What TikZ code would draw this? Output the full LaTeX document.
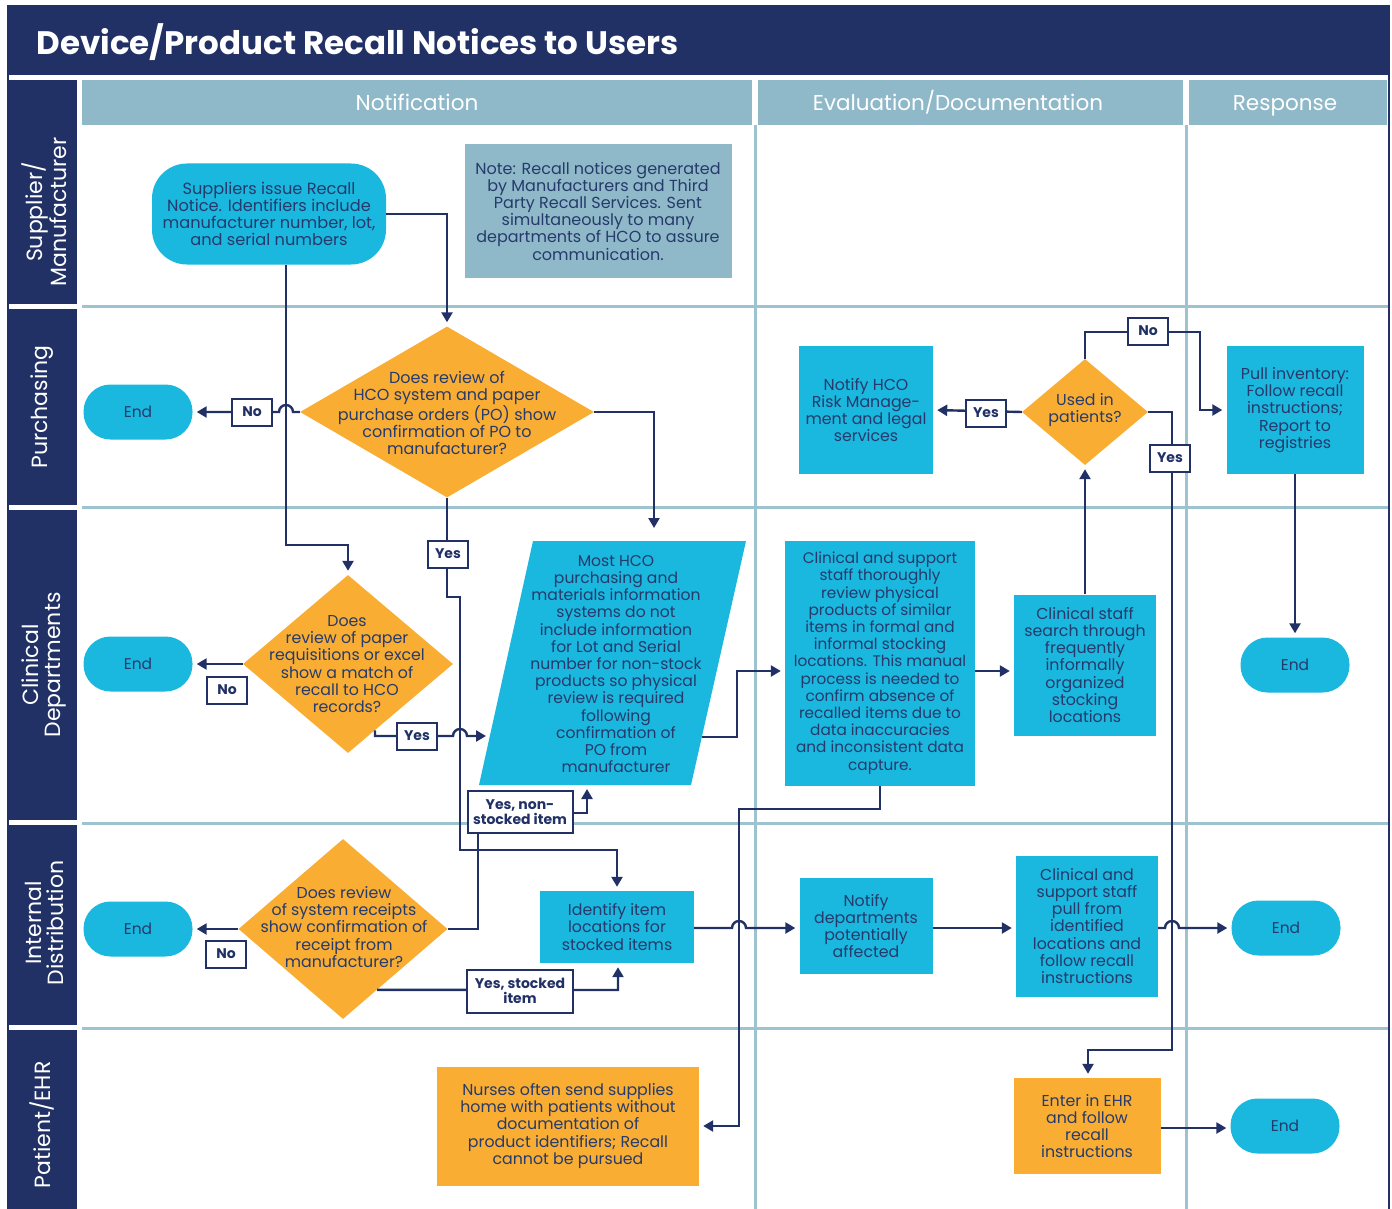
\documentclass[tikz,border=0pt]{standalone}
\usepackage{fontspec}
\setmainfont{Poppins}
\usetikzlibrary{shapes.geometric,arrows.meta,calc}
\definecolor{navy}{HTML}{213166}
\definecolor{hdr}{HTML}{8FB9C9}
\definecolor{sepc}{HTML}{9DC3D1}
\definecolor{cyanbox}{HTML}{1AB7DF}
\definecolor{orng}{HTML}{F9AE33}
\definecolor{txtc}{HTML}{263A6B}
\begin{document}
\begin{tikzpicture}[x=1pt,y=-1pt,
  txt/.style={font=\fontsize{15.8}{17.2}\selectfont, text=txtc, align=center, inner sep=0pt},
  cbox/.style={txt, fill=cyanbox},
  obox/.style={txt, fill=orng},
  endbox/.style={fill=cyanbox, rounded corners=27pt, minimum width=109pt, minimum height=55pt, inner sep=0pt, text=txtc, font=\fontsize{15.5}{18}\selectfont},
  dia/.style={diamond, fill=orng, inner sep=0pt},
  lbl/.style={draw=navy, line width=2pt, fill=white, text=navy, font=\bfseries\fontsize{14}{15.5}\selectfont, inner sep=0pt, minimum width=40pt, minimum height=27pt, align=center},
  conn/.style={draw=navy, line width=2.4pt},
  arr/.style={conn, -{Triangle[length=10pt,width=11pt]}, shorten >=4pt},
  lanetxt/.style={rotate=90, text=white, font=\fontsize{22}{22}\selectfont, align=center},
  hdrtxt/.style={text=white, font=\fontsize{21.5}{22}\selectfont, anchor=base}
]
\useasboundingbox (0,0) rectangle (1392,1209);
% frame and title
\fill[navy] (7,5) rectangle (1390,75);
\node[anchor=west, text=white, font=\bfseries\fontsize{32.5}{34}\selectfont] (title) at (33,42) {Device/Product Recall Notices to Users};
\draw[navy, line width=2pt] (8,75) -- (8,1212);
\draw[navy, line width=2pt] (1389,75) -- (1389,1212);
% headers
\fill[hdr] (82,80) rectangle (752,125);
\fill[hdr] (758,80) rectangle (1183,125);
\fill[hdr] (1189,80) rectangle (1387,125);
\node[hdrtxt] (h1) at (417,111) {Notification};
\node[hdrtxt] (h2) at (958,111) {Evaluation/Documentation};
\node[hdrtxt] (h3) at (1285,111) {Response};
% separators
\foreach \yy in {306,507,823,1028} \draw[sepc, line width=3pt] (82,\yy) -- (1388,\yy);
\draw[sepc, line width=3pt] (755,125) -- (755,1212);
\draw[sepc, line width=3pt] (1186,125) -- (1186,1212);
% lane labels
\fill[navy] (8,80) rectangle (77,304);
\fill[navy] (8,309) rectangle (77,505);
\fill[navy] (8,510) rectangle (77,820);
\fill[navy] (8,825) rectangle (77,1025);
\fill[navy] (8,1030) rectangle (77,1212);
\node[lanetxt] (l1) at (44,212) {Supplier/\\Manufacturer};
\node[lanetxt] (l2) at (42,407) {Purchasing};
\node[lanetxt] (l3) at (44,665) {Clinical\\Departments};
\node[lanetxt] (l4) at (44,923) {Internal\\Distribution};
\node[lanetxt] (l5) at (42,1125) {Patient/EHR};

% nodes
\node[cbox, font=\fontsize{16.2}{17.2}\selectfont, rounded corners=35pt, minimum width=234pt, minimum height=101pt] (sup) at (269,214) {Suppliers issue Recall\\Notice. Identifiers include\\manufacturer number, lot,\\and serial numbers};
\node[txt, font=\fontsize{16}{17.2}\selectfont, fill=hdr, minimum width=267pt, minimum height=134pt] (note) at (598,211) {Note: Recall notices generated\\by Manufacturers and Third\\Party Recall Services. Sent\\simultaneously to many\\departments of HCO to assure\\communication.};

\node[dia, minimum width=294pt, minimum height=171pt] (d1) at (447,412) {};
\node[txt, font=\fontsize{16}{17.2}\selectfont] (d1t) at (447,413) {Does review of\\HCO system and paper\\purchase orders (PO) show\\confirmation of PO to\\manufacturer?};
\node[endbox] (end1) at (138,412) {End};

\node[cbox, minimum width=134pt, minimum height=128pt] (hco) at (866,410) {Notify HCO\\Risk Manage-\\ment and legal\\services};
\node[dia, minimum width=126pt, minimum height=106pt] (d4) at (1085,412) {};
\node[txt] (d4t) at (1085,410) {Used in\\patients?};
\node[cbox, minimum width=137pt, minimum height=128pt] (pull) at (1295,410) {Pull inventory:\\Follow recall\\instructions;\\Report to\\registries};

\node[dia, minimum width=210pt, minimum height=178pt] (d2) at (348,664) {};
\node[txt] (d2t) at (347,664) {Does\\review of paper\\requisitions or excel\\show a match of\\recall to HCO\\records?};
\node[endbox] (end2) at (138,664) {End};

\fill[cyanbox] (479,785) -- (533,541) -- (746,541) -- (691,785) -- cycle;
\node[txt, font=\fontsize{15.6}{17.2}\selectfont] (para) at (616,664) {Most HCO\\purchasing and\\materials information\\systems do not\\include information\\for Lot and Serial\\number for non-stock\\products so physical\\review is required\\following\\confirmation of\\PO from\\manufacturer};
\coordinate (paratop) at (654,541);
\coordinate (paraL) at (490,736);
\coordinate (paraR) at (702,737);
\coordinate (parabot) at (587,785);

\node[cbox, font=\fontsize{15.3}{17.2}\selectfont, minimum width=190pt, minimum height=245pt] (clin) at (880,663) {Clinical and support\\staff thoroughly\\review physical\\products of similar\\items in formal and\\informal stocking\\locations. This manual\\process is needed to\\confirm absence of\\recalled items due to\\data inaccuracies\\and inconsistent data\\capture.};
\node[cbox, minimum width=142pt, minimum height=141pt] (search) at (1085,665) {Clinical staff\\search through\\frequently\\informally\\organized\\stocking\\locations};
\node[endbox] (end3) at (1295,665) {End};

\node[dia, minimum width=209pt, minimum height=180pt] (d3) at (343,929) {};
\node[txt] (d3t) at (344,927) {Does review\\of system receipts\\show confirmation of\\receipt from\\manufacturer?};
\node[endbox] (end4) at (138,929) {End};
\node[cbox, minimum width=154pt, minimum height=72pt] (ident) at (617,927) {Identify item\\locations for\\stocked items};
\node[cbox, minimum width=133pt, minimum height=96pt] (notdep) at (866,926) {Notify\\departments\\potentially\\affected};
\node[cbox, minimum width=142pt, minimum height=141pt] (pfrom) at (1087,926) {Clinical and\\support staff\\pull from\\identified\\locations and\\follow recall\\instructions};
\node[endbox] (end5) at (1286,928) {End};

\node[obox, minimum width=262pt, minimum height=119pt] (nurses) at (568,1126) {Nurses often send supplies\\home with patients without\\documentation of\\product identifiers; Recall\\cannot be pursued};
\node[obox, minimum width=147pt, minimum height=96pt] (ehr) at (1087,1126) {Enter in EHR\\and follow\\recall\\instructions};
\node[endbox] (end6) at (1285,1126) {End};

% connectors
\draw[arr] (sup.east) -| (d1.north);
\draw[arr] (sup.south -| 286,0) -- (286,545) -| (d2.north);
\draw[arr] (d1.west) -- (293,412) arc[start angle=0, end angle=-180, radius=7] -- (end1.east);
\draw[arr, shorten >=13pt] (d1.east) -| (paratop);
\draw[arr] (d1.south) -- (447,597) -- (460,597) -- (460,850) -| (ident.north);
\draw[arr] (d2.west) -- (end2.east);
\draw[arr] ($(d2.south)!0.257!(d2.east)$) -- (375,736) -- (453,736) arc[start angle=180, end angle=360, radius=7] -- (paraL);
\draw[arr] (paraR) -- (737,737) -- (737,671) -- ($(clin.west)+(0,8)$);
\draw[arr] ($(clin.east)+(0,8)$) -- ($(search.west)+(0,6)$);
\draw[arr] (search.north) -- (d4.south);
\draw[arr] (d4.west) -- (hco.east);
\draw[arr] (d4.north) -- (1085,332) -- (1200,332) |- (pull.west);
\draw[arr] (d4.east) -- (1172,412) -- (1172,1050) -- (1088,1050) -- (ehr.north -| 1088,0);
\draw[arr] (pull.south) -- (end3.north);
\draw[arr] (clin.south) -- (880,809) -- (739,809) |- (nurses.east);
\draw[arr] (d3.west) -- (end4.east);
\draw[arr] (d3.east) -- (478,929) -- (478,813) -- (587,813) -- (parabot);
\draw[arr] ($(d3.south)!0.325!(d3.east)$) -- (618,990) -- (ident.south -| 618,0);
\draw[arr] (ident.east |- 0,928) -- (732,928) arc[start angle=180, end angle=360, radius=7] -- (notdep.west |- 0,928);
\draw[arr] (notdep.east |- 0,928) -- (pfrom.west |- 0,928);
\draw[arr] (pfrom.east |- 0,928) -- (1165,928) arc[start angle=180, end angle=360, radius=7] -- (end5.west);
\draw[arr] (ehr.east |- 0,1128) -- (end6.west |- 0,1128);

% labels
\node[lbl] (no1) at (252,412) {No};
\node[lbl] (no2) at (227,690) {No};
\node[lbl] (no3) at (226,954) {No};
\node[lbl] (no4) at (1148,331) {No};
\node[lbl] (yes1) at (448,554) {Yes};
\node[lbl] (yes2) at (417,736) {Yes};
\node[lbl] (yes4) at (986,413) {Yes};
\node[lbl] (yes5) at (1170,458) {Yes};
\node[lbl, minimum width=105pt, minimum height=42pt] (yesnon) at (520,812) {Yes, non-\\stocked item};
\node[lbl, minimum width=106pt, minimum height=43pt] (yesstk) at (520,991) {Yes, stocked\\item};
\end{tikzpicture}
\end{document}
